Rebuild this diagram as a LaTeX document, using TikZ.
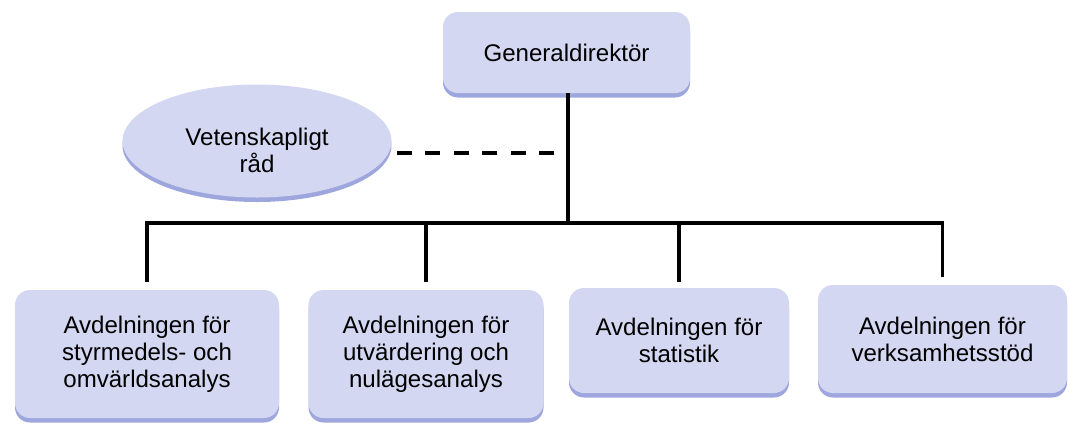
\documentclass[tikz,border=0pt]{standalone}
\usepackage{fontspec}
\setmainfont{Liberation Sans}
\usetikzlibrary{shapes.geometric,shadows}
\definecolor{boxfill}{RGB}{212,215,241}
\definecolor{boxshadow}{RGB}{148,156,218}
\begin{document}
\begin{tikzpicture}[
    unit/.style={rectangle, rounded corners=0.3cm, fill=boxfill, align=center,
      font=\fontsize{13.7}{15.4}\selectfont,
      drop shadow={shadow xshift=0cm, shadow yshift=-0.09cm, fill=boxshadow, opacity=0.9}},
    council/.style={ellipse, fill=boxfill,
      drop shadow={shadow xshift=0cm, shadow yshift=-0.09cm, fill=boxshadow, opacity=0.9}},
    label/.style={align=center, font=\fontsize{13.7}{15.4}\selectfont},
    link/.style={line width=2.1pt},
    advice/.style={line width=2.1pt, dash pattern=on 0.3cm off 0.27cm}
  ]
  \useasboundingbox (0, 0) rectangle (21.38, -8.54);
  % Nodes
  \node (gd) [unit, minimum width=4.94cm, minimum height=1.62cm] at (11.33, -1.05) {Generaldirektör};
  \node (rad) [council, minimum width=5.38cm, minimum height=2.26cm] at (5.14, -2.82) {};
  \node (rad-text) [label] at (5.14, -3.0) {Vetenskapligt\\råd};
  \node (avd-1) [unit, minimum width=5.28cm, minimum height=2.56cm] at (2.94, -7.08) {Avdelningen för\\styrmedels- och\\omvärldsanalys};
  \node (avd-2) [unit, minimum width=4.70cm, minimum height=2.56cm] at (8.52, -7.08) {Avdelningen för\\utvärdering och\\nulägesanalys};
  \node (avd-3) [unit, minimum width=4.40cm, minimum height=2.10cm] at (13.58, -6.81) {Avdelningen för\\statistik};
  \node (avd-4) [unit, minimum width=4.98cm, minimum height=2.16cm] at (18.85, -6.78) {Avdelningen för\\verksamhetsstöd};
  \coordinate (bus) at (11.36, -4.46);
  \coordinate (adv) at (11.1, -3.06);
  % Lines
  \draw[link] (gd.south -| bus) -- (bus);
  \draw[link, shorten <=0.16cm] (avd-1.north) |- (bus);
  \draw[link, shorten <=0.16cm] (avd-2.north) |- (bus);
  \draw[link, shorten <=0.12cm] (avd-3.north) |- (bus);
  \draw[link, shorten <=0.16cm] (avd-4.north) |- (bus);
  \draw[advice] (rad.east |- adv) ++(0.1, 0) -- (adv);
\end{tikzpicture}
\end{document}
